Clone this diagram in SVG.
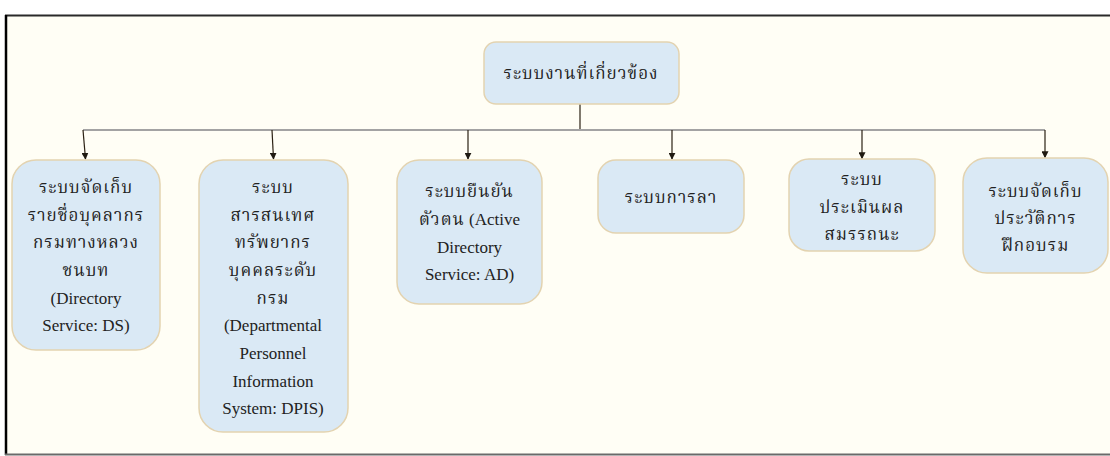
<svg xmlns="http://www.w3.org/2000/svg" width="1110" height="456" viewBox="0 0 1110 456">
  <defs>
    <style>
      .frame-bg { fill: #fffef5; }
      .box { fill: #dae9f5; stroke: #e3d3b0; stroke-width: 1.5; }
      .lbl { font-family: 'Liberation Serif', 'Times New Roman', 'Noto Serif Thai', 'Noto Sans Thai', serif; font-size: 17px; fill: #222; text-anchor: middle; }
      .th { letter-spacing: 1px; }
      .bus { stroke: #a3a3a3; stroke-width: 2; fill: none; }
      .drop { stroke: #2b2113; stroke-width: 1.2; fill: none; }
    </style>
    <marker id="arrow" viewBox="0 0 10 10" refX="9" refY="5" markerWidth="7" markerHeight="7" orient="auto" markerUnits="userSpaceOnUse">
      <path d="M0,0 L10,5 L0,10 Z" fill="#1f1a12"/>
    </marker>
  </defs>

  <rect x="0" y="0" width="1110" height="456" fill="#ffffff"/>
  <!-- page frame -->
  <rect class="frame-bg" x="6" y="16" width="1104" height="438"/>
  <line x1="5" y1="15.5" x2="1110" y2="15.5" stroke="#2a2a2a" stroke-width="2"/>
  <line x1="6" y1="15" x2="6" y2="455" stroke="#000" stroke-width="2.5"/>
  <line x1="5" y1="454.5" x2="1110" y2="454.5" stroke="#6a6a6a" stroke-width="2"/>

  <!-- connectors -->
  <g id="connectors">
    <line class="drop" x1="580" y1="104" x2="580" y2="130"/>
    <line class="bus" x1="83" y1="130" x2="1045" y2="130"/>
    <line class="drop" x1="83" y1="130" x2="85.5" y2="159" marker-end="url(#arrow)"/>
    <line class="drop" x1="272" y1="130" x2="273.5" y2="159" marker-end="url(#arrow)"/>
    <line class="drop" x1="468" y1="130" x2="468" y2="159" marker-end="url(#arrow)"/>
    <line class="drop" x1="672" y1="130" x2="672" y2="159" marker-end="url(#arrow)"/>
    <line class="drop" x1="862" y1="130" x2="862" y2="158.5" marker-end="url(#arrow)"/>
    <line class="drop" x1="1045" y1="130" x2="1045" y2="157.5" marker-end="url(#arrow)"/>
  </g>

  <!-- root -->
  <g id="node-root">
    <rect class="box" x="484" y="42" width="195" height="62" rx="12"/>
    <text class="lbl th" x="581" y="79">ระบบงานที่เกี่ยวข้อง</text>
  </g>

  <g id="node-ds">
    <rect class="box" x="12" y="160" width="148" height="190" rx="24"/>
    <text class="lbl th" x="86" y="193">ระบบจัดเก็บ</text>
    <text class="lbl th" x="86" y="220.5">รายชื่อบุคลากร</text>
    <text class="lbl th" x="86" y="248">กรมทางหลวง</text>
    <text class="lbl th" x="86" y="276">ชนบท</text>
    <text class="lbl" x="86" y="303.5">(Directory</text>
    <text class="lbl" x="86" y="331">Service: DS)</text>
  </g>

  <g id="node-dpis">
    <rect class="box" x="199" y="160" width="149" height="272" rx="24"/>
    <text class="lbl th" x="273" y="193">ระบบ</text>
    <text class="lbl th" x="273" y="220.5">สารสนเทศ</text>
    <text class="lbl th" x="273" y="248">ทรัพยากร</text>
    <text class="lbl th" x="273" y="276">บุคคลระดับ</text>
    <text class="lbl th" x="273" y="303.5">กรม</text>
    <text class="lbl" x="273" y="331">(Departmental</text>
    <text class="lbl" x="273" y="359">Personnel</text>
    <text class="lbl" x="273" y="386.5">Information</text>
    <text class="lbl" x="273" y="414">System: DPIS)</text>
  </g>

  <g id="node-ad">
    <rect class="box" x="397" y="160" width="145" height="144" rx="22"/>
    <text class="lbl th" x="469.5" y="197">ระบบยืนยัน</text>
    <text class="lbl" x="469.5" y="225"><tspan class="th">ตัวตน</tspan> (Active</text>
    <text class="lbl" x="469.5" y="252.5">Directory</text>
    <text class="lbl" x="469.5" y="280">Service: AD)</text>
  </g>

  <g id="node-leave">
    <rect class="box" x="598" y="160" width="146" height="73" rx="18"/>
    <text class="lbl th" x="671" y="203">ระบบการลา</text>
  </g>

  <g id="node-eval">
    <rect class="box" x="789" y="159" width="146" height="92" rx="20"/>
    <text class="lbl th" x="862" y="185">ระบบ</text>
    <text class="lbl th" x="862" y="213">ประเมินผล</text>
    <text class="lbl th" x="862" y="240">สมรรถนะ</text>
  </g>

  <g id="node-training">
    <rect class="box" x="963" y="158" width="145" height="115" rx="24"/>
    <text class="lbl th" x="1035.5" y="197">ระบบจัดเก็บ</text>
    <text class="lbl th" x="1035.5" y="224">ประวัติการ</text>
    <text class="lbl th" x="1035.5" y="251">ฝึกอบรม</text>
  </g>
</svg>
